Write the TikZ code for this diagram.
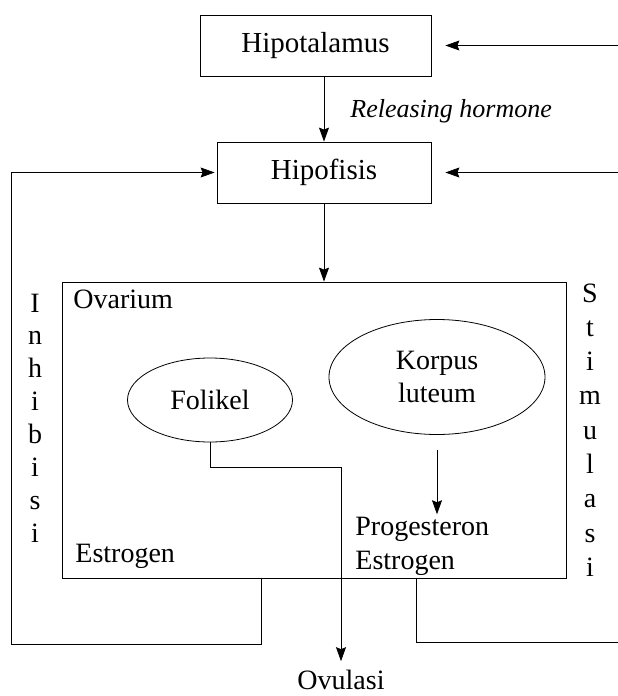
\documentclass[tikz,border=0pt]{standalone}
\usepackage{fontspec}
\setmainfont{Liberation Serif}
\usetikzlibrary{arrows.meta,calc,shapes.geometric}
\begin{document}
\begin{tikzpicture}[x=1pt,y=-1pt,
  line width=0.8pt,
  box/.style={draw, rectangle, inner sep=0, font=\fontsize{29}{34}\selectfont},
  oval/.style={draw, ellipse, inner sep=0, font=\fontsize{28}{33}\selectfont, align=center},
  lbl/.style={inner sep=0, font=\fontsize{28}{33}\selectfont},
  arr/.style={-{Stealth[length=14pt,width=10pt,inset=2pt]}},
  wire/.style={line width=0.7pt}]
\useasboundingbox (0,0) rectangle (618,696);
\node[box, minimum width=231, minimum height=61] (hyp) at (315.5,45.5) {Hipotalamus};
\node[box, minimum width=214, minimum height=61] (hpf) at (324,172.5) {Hipofisis};
\node[draw, rectangle, minimum width=504, minimum height=296, inner sep=0] (ov) at (314,430) {};
\node[oval, minimum width=165, minimum height=84] (fol) at (210,400) {Folikel};
\node[oval, minimum width=216, minimum height=115] (kor) at (437,377) {Korpus\\luteum};
\node[lbl, anchor=base west] (prog) at (355,535) {Progesteron};
\node[lbl, anchor=base west] (est2) at (355,569) {Estrogen};
\node[lbl, anchor=base west] (ovl) at (73,308) {Ovarium};
\node[lbl, anchor=base west] (est1) at (75,562) {Estrogen};
\node[lbl, anchor=base] (ovu) at (341,689) {Ovulasi};
\node[lbl, anchor=base west, font=\fontsize{26}{31}\selectfont\itshape] (rel) at (350,117) {Releasing hormone};
\node[lbl, align=center, font=\fontsize{28}{32.9}\selectfont] (inh) at (35,418) {I\\n\\h\\i\\b\\i\\s\\i};
\node[lbl, align=center, font=\fontsize{28}{34.3}\selectfont] (stim) at (590,430) {S\\t\\i\\m\\u\\l\\a\\s\\i};
\coordinate (r1) at (618,45.5);
\coordinate (r2) at (618,172.5);
\coordinate (fc) at (341,467);
\coordinate (ib) at (11,644);
\coordinate (sb) at (618,642);
\draw[arr] (r1) -- ([xshift=14pt]hyp.east);
\draw[arr] (r2) -- ([xshift=14pt]hpf.east);
\draw[arr] (hyp.south -| hpf.north) -- (hpf.north);
\draw[arr] (hpf.south) -- (hpf.south |- ov.north);
\draw[arr, shorten <=15pt] (kor.south) -- ([yshift=2pt]kor.south |- prog.north);
\draw[arr, wire, shorten >=8pt] (fol.south) |- (fc) -- (fc |- ovu.north);
\draw[arr, wire] ($(ov.south west)+(200,0)$) |- (ib) |- ([xshift=-2pt]hpf.west);
\draw[wire] ($(ov.south west)+(355,0)$) |- (sb);
\end{tikzpicture}
\end{document}
